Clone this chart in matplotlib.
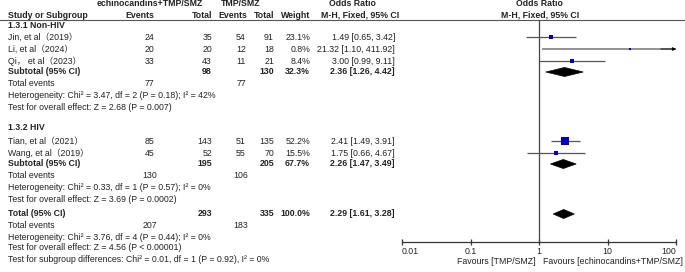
import numpy as np
import matplotlib
matplotlib.use("Agg")
import matplotlib.pyplot as plt
from matplotlib.patches import Polygon

plt.rcParams['font.family'] = ['Liberation Sans', 'Noto Sans CJK SC', 'DejaVu Sans']

# study level data
studies = ["Jin, et al（2019）", "Li, et al（2024）", "Qi， et al（2023）",
           "Tian, et al（2021）", "Wang, et al（2019）"]
study_group = [0, 0, 0, 1, 1]
ev_exp = [24, 20, 33, 85, 45]
tot_exp = [35, 20, 43, 143, 52]
ev_ctl = [54, 12, 11, 51, 55]
tot_ctl = [91, 18, 21, 135, 70]
weights = [23.1, 0.8, 8.4, 52.2, 15.5]
odds = [1.49, 21.32, 3.00, 2.41, 1.75]
ci_lo = [0.65, 1.10, 0.99, 1.49, 0.66]
ci_hi = [3.42, 411.92, 9.11, 3.91, 4.67]

# subgroups
groups = ["1.3.1 Non-HIV", "1.3.2 HIV"]
grp_tot_exp = [98, 195]
grp_tot_ctl = [130, 205]
grp_ev_exp = [77, 130]
grp_ev_ctl = [77, 106]
grp_weight = [32.3, 67.7]
grp_or = [2.36, 2.26]
grp_lo = [1.26, 1.47]
grp_hi = [4.42, 3.49]
grp_het = ["Heterogeneity: Chi² = 3.47, df = 2 (P = 0.18); I² = 42%",
           "Heterogeneity: Chi² = 0.33, df = 1 (P = 0.57); I² = 0%"]
grp_test = ["Test for overall effect: Z = 2.68 (P = 0.007)",
            "Test for overall effect: Z = 3.69 (P = 0.0002)"]

# overall
all_tot_exp, all_tot_ctl = 293, 335
all_ev_exp, all_ev_ctl = 207, 183
all_or, all_lo, all_hi = 2.29, 1.61, 3.28
all_het = "Heterogeneity: Chi² = 3.76, df = 4 (P = 0.44); I² = 0%"
all_test = "Test for overall effect: Z = 4.56 (P < 0.00001)"
sub_test = "Test for subgroup differences: Chi² = 0.01, df = 1 (P = 0.92), I² = 0%"

xticks = [0.01, 0.1, 1, 10, 100]
xtick_labels = ["0.01", "0.1", "1", "10", "100"]

# row positions (pixels from top)
grp_rows = [dict(head=25, studies=[37, 49, 61], sub=72, ev=84, het=96, test=107),
            dict(head=128, studies=[141, 153], sub=164, ev=176, het=187, test=199)]
row_total, row_total_ev, row_total_het, row_total_test, row_sub_test = 214, 225, 237, 248, 260
axis_y = 241.7

W, H = 685, 272
fig = plt.figure(figsize=(W / 100, H / 100), dpi=100)
ax = fig.add_axes([0, 0, 1, 1])
ax.set_xlim(0, W)
ax.set_ylim(H, 0)
ax.axis("off")

fs = 6.3
tc = "#222222"
blue = "#0000cc"


def txt(x, y, s, ha="left", bold=False):
    ax.text(x, y, s, ha=ha, va="center", fontsize=fs, color=tc,
            fontweight="bold" if bold else "normal")


# headers
txt(150, 4, "echinocandins+TMP/SMZ", ha="center", bold=True)
txt(241, 4, "TMP/SMZ", ha="center", bold=True)
txt(352, 4, "Odds Ratio", ha="center", bold=True)
txt(539, 4, "Odds Ratio", ha="center", bold=True)
txt(8, 15, "Study or Subgroup", bold=True)
txt(154, 15, "Events", ha="right", bold=True)
txt(212, 15, "Total", ha="right", bold=True)
txt(247, 15, "Events", ha="right", bold=True)
txt(274, 15, "Total", ha="right", bold=True)
txt(310, 15, "Weight", ha="right", bold=True)
txt(360, 15, "M-H, Fixed, 95% CI", ha="center", bold=True)
txt(540, 15, "M-H, Fixed, 95% CI", ha="center", bold=True)
ax.plot([0, W], [19.5, 19.5], color="#555555", lw=0.8)

# forest axes
fx = fig.add_axes([402 / W, 0, (676 - 402) / W, 1])
fx.set_xscale("log")
fx.set_xlim(0.01, 100)
fx.set_ylim(H, 0)
fx.patch.set_alpha(0)
for s in ["top", "left", "right"]:
    fx.spines[s].set_visible(False)
fx.spines["bottom"].set_position(("data", axis_y))
fx.spines["bottom"].set_color("#333333")
fx.spines["bottom"].set_linewidth(0.9)
fx.set_yticks([])
fx.set_xticks(xticks)
fx.set_xticklabels(xtick_labels, fontsize=fs, color=tc)
fx.minorticks_off()
fx.tick_params(axis="x", direction="inout", length=5, width=0.9, color="#333333", pad=1)
lbls = fx.get_xticklabels()
lbls[0].set_ha("left")
lbls[-1].set_ha("right")
fx.vlines(1, 19.5, axis_y, color="#444444", lw=0.9)


def diamond(o, lo, hi, y, h=4.5):
    fx.add_patch(Polygon([(lo, y), (o, y - h), (hi, y), (o, y + h)], closed=True,
                         facecolor="black", edgecolor="black", lw=0.5))


for g, rows in enumerate(grp_rows):
    txt(8, rows["head"], groups[g], bold=True)
    idx = [i for i in range(len(studies)) if study_group[i] == g]
    for i, y in zip(idx, rows["studies"]):
        txt(8, y, studies[i])
        txt(149.5, y, str(ev_exp[i]), ha="center")
        txt(212, y, str(tot_exp[i]), ha="right")
        txt(241, y, str(ev_ctl[i]), ha="center")
        txt(274, y, str(tot_ctl[i]), ha="right")
        txt(310, y, f"{weights[i]:.1f}%", ha="right")
        txt(395, y, f"{odds[i]:.2f} [{ci_lo[i]:.2f}, {ci_hi[i]:.2f}]", ha="right")
        side_px = max(7.5 * np.sqrt(weights[i] / 52.2), 1.3)
        if ci_hi[i] > 100:
            fx.hlines(y, ci_lo[i], 100, color="#8a8a8a", lw=1.3)
            fx.annotate("", xy=(100, y), xytext=(60, y),
                        arrowprops=dict(arrowstyle="-|>", color="black", lw=0.6,
                                        mutation_scale=5, shrinkA=0, shrinkB=0))
        else:
            fx.hlines(y, ci_lo[i], ci_hi[i], color="#555555", lw=0.9)
        fx.scatter([odds[i]], [y], marker="s", s=(side_px * 0.72) ** 2,
                   color=blue, zorder=3, linewidths=0)
    y = rows["sub"]
    txt(8, y, "Subtotal (95% CI)", bold=True)
    txt(212, y, str(grp_tot_exp[g]), ha="right", bold=True)
    txt(274, y, str(grp_tot_ctl[g]), ha="right", bold=True)
    txt(310, y, f"{grp_weight[g]:.1f}%", ha="right", bold=True)
    txt(395, y, f"{grp_or[g]:.2f} [{grp_lo[g]:.2f}, {grp_hi[g]:.2f}]", ha="right", bold=True)
    diamond(grp_or[g], grp_lo[g], grp_hi[g], y)
    y = rows["ev"]
    txt(8, y, "Total events")
    txt(149.5, y, str(grp_ev_exp[g]), ha="center")
    txt(241, y, str(grp_ev_ctl[g]), ha="center")
    txt(8, rows["het"], grp_het[g])
    txt(8, rows["test"], grp_test[g])

# overall
txt(8, row_total, "Total (95% CI)", bold=True)
txt(212, row_total, str(all_tot_exp), ha="right", bold=True)
txt(274, row_total, str(all_tot_ctl), ha="right", bold=True)
txt(310, row_total, "100.0%", ha="right", bold=True)
txt(395, row_total, f"{all_or:.2f} [{all_lo:.2f}, {all_hi:.2f}]", ha="right", bold=True)
diamond(all_or, all_lo, all_hi, row_total)
txt(8, row_total_ev, "Total events")
txt(149.5, row_total_ev, str(all_ev_exp), ha="center")
txt(241, row_total_ev, str(all_ev_ctl), ha="center")
txt(8, row_total_het, all_het)
txt(8, row_total_test, all_test)
txt(8, row_sub_test, sub_test)

txt(536, 261, "Favours [TMP/SMZ]", ha="right")
txt(543, 261, "Favours [echinocandins+TMP/SMZ]")

fig.savefig("out.png", dpi=100)
